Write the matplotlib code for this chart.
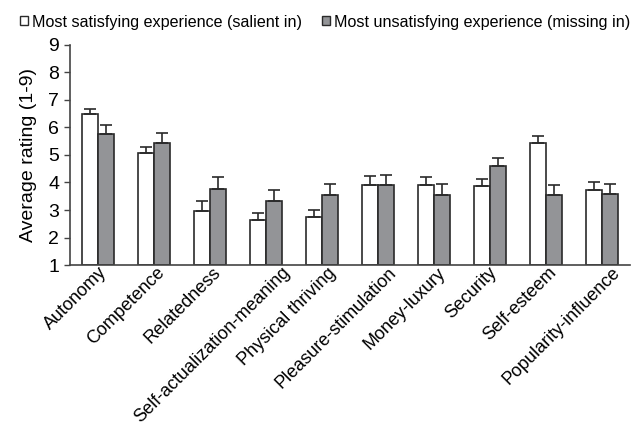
import matplotlib
matplotlib.use("Agg")
import matplotlib.pyplot as plt
import matplotlib.transforms as mtransforms
import numpy as np
from matplotlib.patches import Patch

plt.rcParams['font.family'] = ['Liberation Sans', 'DejaVu Sans']

categories = ["Autonomy", "Competence", "Relatedness", "Self-actualization-meaning",
              "Physical thriving", "Pleasure-stimulation", "Money-luxury", "Security",
              "Self-esteem", "Popularity-influence"]
satisfying = [6.48, 5.08, 2.96, 2.65, 2.73, 3.91, 3.91, 3.87, 5.45, 3.73]
satisfying_err = [0.18, 0.22, 0.36, 0.25, 0.27, 0.31, 0.28, 0.27, 0.22, 0.30]
unsatisfying = [5.76, 5.45, 3.76, 3.33, 3.55, 3.91, 3.55, 4.59, 3.55, 3.59]
unsatisfying_err = [0.31, 0.36, 0.43, 0.39, 0.40, 0.36, 0.40, 0.31, 0.36, 0.36]
series_labels = ["Most satisfying experience (salient in)",
                 "Most unsatisfying experience (missing in)"]
yticks = [1, 2, 3, 4, 5, 6, 7, 8, 9]

fig = plt.figure(figsize=(6.32, 4.34), dpi=100)
ax = fig.add_axes([0.111, 0.389, 0.886, 0.508])

x = np.arange(len(categories))
w = 0.29
base = 1.0
edge = "#2a2a2a"
gray = "#939497"

err_kw = dict(ecolor=edge, elinewidth=1.2, capsize=4, capthick=1.2)
ax.bar(x - w / 2, np.array(satisfying) - base, w, bottom=base, color="white",
       edgecolor=edge, linewidth=1.2,
       yerr=[np.zeros(len(x)), satisfying_err], error_kw=err_kw, zorder=2)
ax.bar(x + w / 2, np.array(unsatisfying) - base, w, bottom=base, color=gray,
       edgecolor=edge, linewidth=1.2,
       yerr=[np.zeros(len(x)), unsatisfying_err], error_kw=err_kw, zorder=2)

ax.set_xlim(-0.5, len(categories) - 0.5)
ax.set_ylim(1, 9)
ax.set_yticks(yticks)
ax.tick_params(axis='y', labelsize=14, length=4, width=1, color="#444444", pad=4)
ax.set_xticks(x)
ax.set_xticklabels(categories, rotation=45, ha="right", rotation_mode="anchor",
                   fontsize=13)
ax.tick_params(axis='x', length=0, pad=0)
ax.set_ylabel("Average rating (1-9)", fontsize=14, labelpad=8)

for s in ("top", "right"):
    ax.spines[s].set_visible(False)
for s in ("left", "bottom"):
    ax.spines[s].set_color("#444444")
    ax.spines[s].set_linewidth(1.2)

# Longer category labels sit slightly further to the right of their group
fig.canvas.draw()
renderer = fig.canvas.get_renderer()
for lab in ax.get_xticklabels():
    bb = lab.get_window_extent(renderer)
    length = bb.width * np.sqrt(2) - 20
    dx = 0.115 * length - 9
    lab.set_transform(lab.get_transform() + mtransforms.Affine2D().translate(dx, 1))

handles = [Patch(facecolor="white", edgecolor=edge, linewidth=1),
           Patch(facecolor=gray, edgecolor=edge, linewidth=1)]
fig.legend(handles, series_labels, loc="upper left", bbox_to_anchor=(0.008, 1.0),
           ncol=2, frameon=False, fontsize=11.6, handlelength=0.5, handleheight=0.5,
           handletextpad=0.25, columnspacing=1.25)

fig.savefig("out.png", dpi=100)
